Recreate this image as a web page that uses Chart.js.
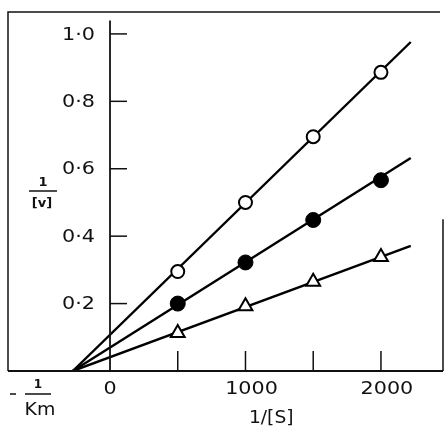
<!DOCTYPE html>
<html>
<head>
<meta charset="utf-8">
<script src="https://cdn.jsdelivr.net/npm/chart.js@4"></script>
<style>
html,body{margin:0;padding:0;background:#fff;}
#wrap{width:445px;height:432px;position:relative;}
</style>
</head>
<body>
<div id="wrap"><canvas id="c" width="445" height="432"></canvas></div>
<script>
// ---- data ----
const substrate = [500, 1000, 1500, 2000];          // 1/[S]
const openCircle = [0.295, 0.500, 0.695, 0.886];   // 1/[v], open circles
const filledCircle = [0.200, 0.322, 0.448, 0.566]; // 1/[v], filled circles
const triangle = [0.113, 0.192, 0.265, 0.338];     // 1/[v], triangles
const fitX = [-275, 2220];                          // fitted line extent (1/[S])
const fitOpen = [0, 0.976];
const fitFilled = [0, 0.632];
const fitTriangle = [0, 0.371];
const xTickValues = [500, 1000, 1500, 2000];
const xLabelValues = [0, 1000, 2000];
const xLabels = ['0', '1000', '2000'];
const yTickValues = [0.2, 0.4, 0.6, 0.8, 1.0];
const yLabels = ['0·2', '0·4', '0·6', '0·8', '1·0'];
const xTitle = '1/[S]';
const yTitleNum = '1', yTitleDen = '[v]';
const kmNum = '1', kmDen = 'Km';

const pts = (xs, ys) => xs.map((x, i) => ({x: x, y: ys[i]}));

const FONT = '"DejaVu Sans", sans-serif';

function stretchText(ctx, text, x, y, sx, align) {
  ctx.save();
  ctx.translate(x, y);
  ctx.scale(sx, 1);
  ctx.textAlign = align;
  ctx.fillText(text, 0, 0);
  ctx.restore();
}

const axesPlugin = {
  id: 'axesPlugin',
  beforeDraw(chart) {
    const ctx = chart.ctx;
    ctx.save();
    ctx.fillStyle = '#fff';
    ctx.fillRect(0, 0, chart.width, chart.height);
    ctx.restore();
  },
  afterDatasetsDraw(chart) {
    const ctx = chart.ctx;
    const xs = chart.scales.x, ys = chart.scales.y;
    const a = chart.chartArea;
    const x0 = xs.getPixelForValue(0);
    const y0 = ys.getPixelForValue(0);
    ctx.save();
    ctx.strokeStyle = '#111';
    ctx.lineCap = 'butt';
    // frame
    ctx.lineWidth = 1.5;
    ctx.beginPath();
    ctx.moveTo(a.left, y0);
    ctx.lineTo(a.left, a.top);
    ctx.lineTo(a.right - 3, a.top);
    ctx.moveTo(a.right, ys.getPixelForValue(0.45));
    ctx.lineTo(a.right, y0);
    ctx.stroke();
    // x axis
    ctx.lineWidth = 2;
    ctx.beginPath();
    ctx.moveTo(a.left, y0);
    ctx.lineTo(a.right, y0);
    ctx.stroke();
    // y axis at x=0
    ctx.lineWidth = 1.8;
    ctx.beginPath();
    ctx.moveTo(x0, ys.getPixelForValue(1.04));
    ctx.lineTo(x0, y0);
    ctx.stroke();
    // y ticks (pointing right)
    ctx.lineWidth = 1.5;
    yTickValues.forEach(v => {
      const py = ys.getPixelForValue(v);
      ctx.beginPath();
      ctx.moveTo(x0, py);
      ctx.lineTo(x0 + 17, py);
      ctx.stroke();
    });
    // x ticks (pointing up)
    xTickValues.forEach(v => {
      const px = xs.getPixelForValue(v);
      ctx.beginPath();
      ctx.moveTo(px, y0);
      ctx.lineTo(px, y0 - 20);
      ctx.stroke();
    });
    // y tick labels
    ctx.fillStyle = '#111';
    ctx.font = '18px ' + FONT;
    ctx.textBaseline = 'middle';
    yTickValues.forEach((v, i) => {
      stretchText(ctx, yLabels[i], x0 - 15, ys.getPixelForValue(v) + 1, 1.15, 'right');
    });
    // x tick labels
    xLabelValues.forEach((v, i) => {
      const off = v === 0 ? 0 : 6;
      stretchText(ctx, xLabels[i], xs.getPixelForValue(v) + off, y0 + 18, 1.15, 'center');
    });
    // x title
    ctx.font = '17px ' + FONT;
    stretchText(ctx, xTitle, xs.getPixelForValue(1190), y0 + 48, 1.1, 'center');
    // y title fraction
    ctx.textAlign = 'center';
    ctx.font = 'bold 13px ' + FONT;
    ctx.fillText(yTitleNum, 43, 183);
    ctx.fillText(yTitleDen, 42, 204);
    ctx.lineWidth = 1.5;
    ctx.beginPath();
    ctx.moveTo(29, 191);
    ctx.lineTo(57, 191);
    ctx.stroke();
    // -1/Km
    ctx.font = 'bold 12px ' + FONT;
    ctx.fillText(kmNum, 38, 385);
    ctx.font = '18px ' + FONT;
    stretchText(ctx, kmDen, 40, 410, 1.05, 'center');
    ctx.beginPath();
    ctx.moveTo(10, 394);
    ctx.lineTo(16, 394);
    ctx.moveTo(25, 394);
    ctx.lineTo(51, 394);
    ctx.stroke();
    ctx.restore();
  }
};

const lineDs = (data) => ({
  type: 'scatter', data: data, showLine: true, borderColor: '#000',
  borderWidth: 2.4, pointRadius: 0, pointHoverRadius: 0, order: 2
});

new Chart(document.getElementById('c'), {
  type: 'scatter',
  data: {
    datasets: [
      lineDs(pts(fitX, fitOpen)),
      lineDs(pts(fitX, fitFilled)),
      lineDs(pts(fitX, fitTriangle)),
      {data: pts(substrate, openCircle), pointStyle: 'circle', pointRadius: 6.5,
       backgroundColor: '#fff', borderColor: '#000', borderWidth: 2, order: 1},
      {data: pts(substrate, filledCircle), pointStyle: 'circle', pointRadius: 7.5,
       backgroundColor: '#000', borderColor: '#000', borderWidth: 1, order: 1},
      {data: pts(substrate, triangle), pointStyle: 'triangle', pointRadius: 8,
       backgroundColor: '#fff', borderColor: '#000', borderWidth: 2, order: 1}
    ]
  },
  options: {
    responsive: false,
    devicePixelRatio: 1,
    animation: false,
    events: [],
    layout: {autoPadding: false, padding: {left: 8, top: 12, right: 2, bottom: 61}},
    plugins: {legend: {display: false}, tooltip: {enabled: false}},
    scales: {
      x: {type: 'linear', min: -753, max: 2458, display: false},
      y: {type: 'linear', min: 0, max: 1.065, display: false}
    }
  },
  plugins: [axesPlugin]
});
</script>
</body>
</html>
